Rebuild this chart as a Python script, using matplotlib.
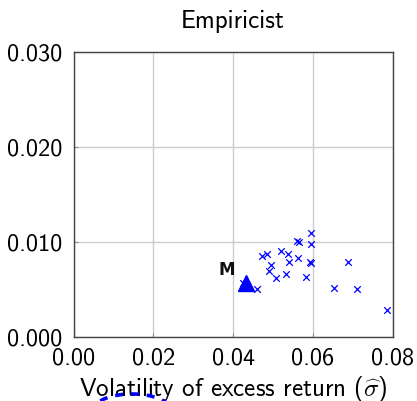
import matplotlib
matplotlib.use("Agg")
import matplotlib.pyplot as plt
from matplotlib.patches import Ellipse

plt.rcParams["font.family"] = ["cmss10", "DejaVu Sans"]
plt.rcParams["mathtext.fontset"] = "cm"
plt.rcParams["axes.formatter.use_mathtext"] = True

# Volatility and mean of excess return for each portfolio
vol = [0.05957, 0.05599, 0.05656, 0.05957, 0.04735, 0.04846, 0.05205, 0.05388,
       0.05639, 0.05398, 0.05940, 0.05957, 0.06878, 0.04954, 0.04911, 0.05323,
       0.05072, 0.05832, 0.04595, 0.04243, 0.06535, 0.07119, 0.07857]
ret = [0.01089, 0.01011, 0.00997, 0.00973, 0.00849, 0.00867, 0.00905, 0.00870,
       0.00825, 0.00789, 0.00789, 0.00772, 0.00789, 0.00754, 0.00691, 0.00659,
       0.00614, 0.00624, 0.00501, 0.00568, 0.00508, 0.00504, 0.00280]

# Market portfolio
market_vol = [0.04331]
market_ret = [0.00567]
market_label = "M"

x_ticks = [0.00, 0.02, 0.04, 0.06, 0.08]
y_ticks = [0.000, 0.010, 0.020, 0.030]
x_tick_labels = ["0.00", "0.02", "0.04", "0.06", "0.08"]
y_tick_labels = ["0.000", "0.010", "0.020", "0.030"]

fig = plt.figure(figsize=(4.17, 4.01), dpi=100)
ax = fig.add_axes([0.1765, 0.1608, 0.765, 0.7095])

ax.grid(True, color="#cccccc", linewidth=1.0)
ax.set_axisbelow(True)

ax.scatter(vol, ret, marker="x", s=22, color="#0000ff", linewidths=0.9, zorder=3)
ax.plot(market_vol, market_ret, marker="^", markersize=11.5, color="#0000ff",
        linestyle="none", zorder=4)
ax.annotate(market_label, (market_vol[0], market_ret[0]), xytext=(-14, 9),
            textcoords="offset points", ha="center", va="center",
            fontsize=12, fontweight="bold", family="DejaVu Sans", color="#111111")

ax.set_xlim(0, 0.08)
ax.set_ylim(0, 0.03)
ax.set_xticks(x_ticks)
ax.set_xticklabels(x_tick_labels)
ax.set_yticks(y_ticks)
ax.set_yticklabels(y_tick_labels)
ax.tick_params(direction="in", length=3, width=0.8, color="#888888",
               labelsize=17.5, pad=8)

for sp in ax.spines.values():
    sp.set_color("#444444")
    sp.set_linewidth(1.0)

ax.set_title("Empiricist", fontsize=18, pad=17)
ax.set_xlabel(r"Volatility of excess return ($\widehat{\sigma}$)", fontsize=18,
              labelpad=3)

# Top of the dashed outline below the axis label
fig.add_artist(Ellipse((132 / 417, -8 / 401), 75 / 417, 30 / 401,
                       transform=fig.transFigure, fill=False,
                       edgecolor="#0000ff", linewidth=2.6,
                       linestyle=(0, (2.2, 2.2)), clip_on=False))

fig.savefig("out.png", dpi=100)
